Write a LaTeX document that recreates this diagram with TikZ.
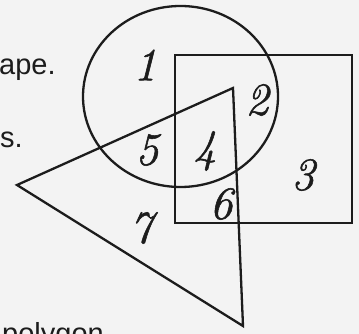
\documentclass[tikz,border=0pt]{standalone}
\usepackage{fontspec}
\setmainfont{Liberation Sans}
\newfontfamily\handfont[ItalicFeatures={FakeBold=1.2}]{Latin Modern Roman}
\definecolor{bg}{RGB}{243,243,243}
\definecolor{ink}{RGB}{28,28,28}
\begin{document}
\begin{tikzpicture}[x=1pt,y=-1pt,
  shapeline/.style={draw=ink,line width=2.3pt,line join=miter},
  sidetext/.style={inner sep=0pt,text=ink,font=\fontsize{29}{29}\selectfont},
  region/.style={inner sep=0pt,text=ink,font=\handfont\itshape\fontsize{46}{46}\selectfont}]
\useasboundingbox[fill=bg] (0,0) rectangle (359,334);
% shapes
\draw[shapeline] (180.5,96.5) ellipse [x radius=97.5,y radius=90.5];
\draw[shapeline] (175,55) rectangle (352,223);
\coordinate (tA) at (233,88);
\coordinate (tB) at (17,185);
\coordinate (tC) at (243,326);
\draw[shapeline] (tA) -- (tB) -- (tC) -- cycle;
% side texts
\node[sidetext,anchor=base west] (t1) at (-1,75) {ape.};
\node[sidetext,anchor=base west] (t2) at (0,148) {s.};
\node[sidetext,anchor=base west] (t3) at (2,343) {polygon};
% region numbers
\node[region] (n1) at (145,65) {1};
\node[region] (n2) at (257,100) {2};
\node[region] (n3) at (303,175) {3};
\node[region] (n4) at (205,151) {4};
\node[region] (n5) at (147,150) {5};
\node[region] (n6) at (221,204) {6};
\node[region] (n7) at (141,228) {7};
\end{tikzpicture}
\end{document}
